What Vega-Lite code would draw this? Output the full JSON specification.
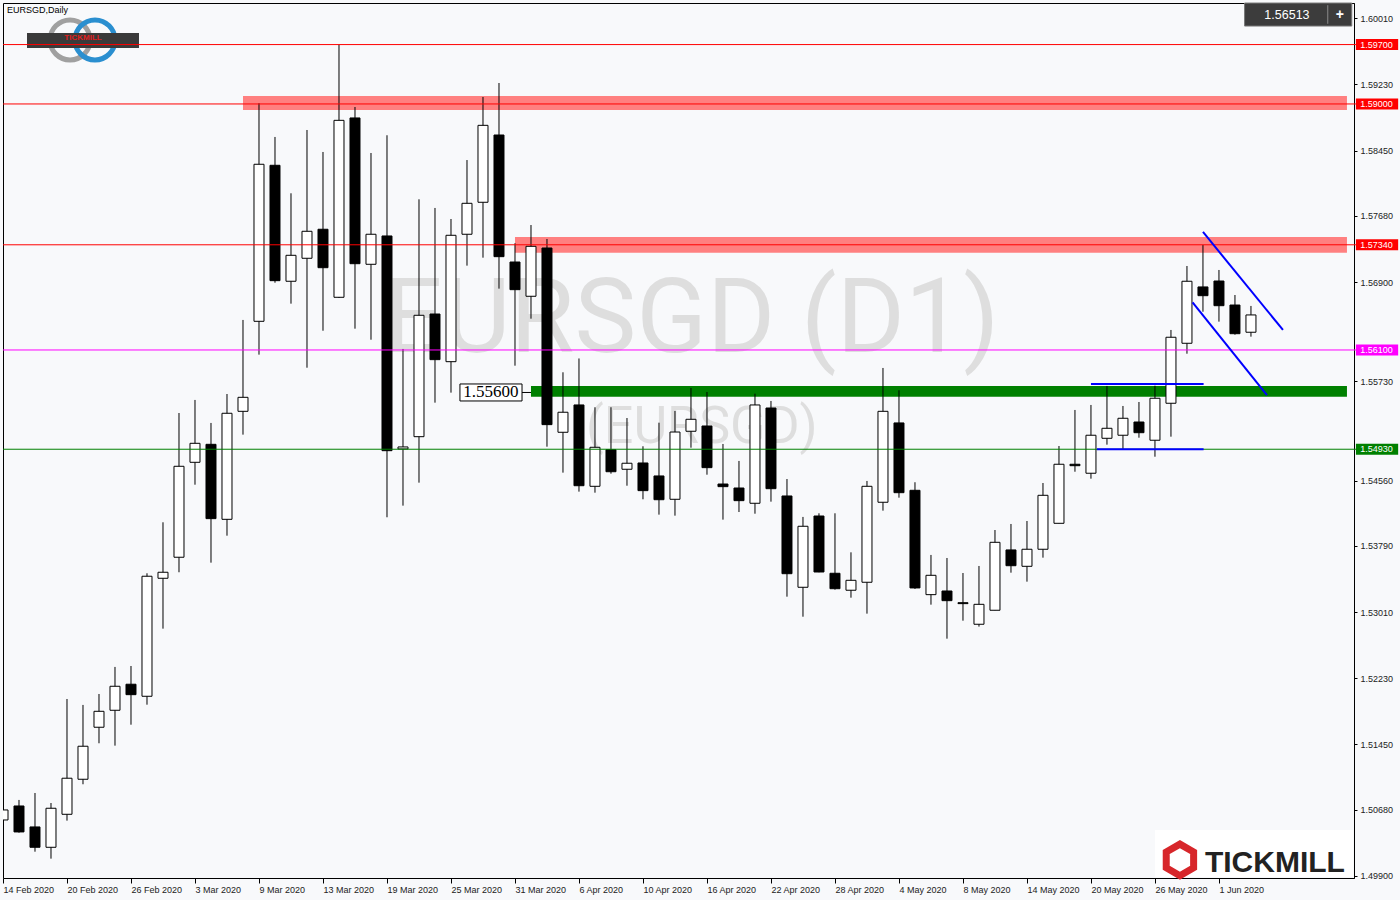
{
  "$schema": "https://vega.github.io/schema/vega-lite/v6.json",
  "width": 1351,
  "height": 875,
  "autosize": {"type": "none"},
  "padding": {"left": 3, "top": 3, "right": 46, "bottom": 22},
  "background": "#f8f9fb",
  "config": {"view": {"stroke": "#000000", "strokeWidth": 1}},
  "datasets": {
    "one": [{}],
    "candles": [
      {"i":0,"o":1.50560,"h":1.51126,"l":1.50466,"c":1.50678},
      {"i":1,"o":1.50725,"h":1.50796,"l":1.50410,"c":1.50419},
      {"i":2,"o":1.50478,"h":1.50878,"l":1.50186,"c":1.50238},
      {"i":3,"o":1.50238,"h":1.50760,"l":1.50104,"c":1.50698},
      {"i":4,"o":1.50627,"h":1.51986,"l":1.50552,"c":1.51052},
      {"i":5,"o":1.51040,"h":1.51916,"l":1.50981,"c":1.51429},
      {"i":6,"o":1.51653,"h":1.52045,"l":1.51464,"c":1.51841},
      {"i":7,"o":1.51853,"h":1.52364,"l":1.51436,"c":1.52136},
      {"i":8,"o":1.52160,"h":1.52375,"l":1.51683,"c":1.52037},
      {"i":9,"o":1.52018,"h":1.53468,"l":1.51919,"c":1.53433},
      {"i":10,"o":1.53409,"h":1.54069,"l":1.52815,"c":1.53480},
      {"i":11,"o":1.53657,"h":1.55357,"l":1.53480,"c":1.54729},
      {"i":12,"o":1.54776,"h":1.55511,"l":1.54512,"c":1.55000},
      {"i":13,"o":1.54988,"h":1.55240,"l":1.53593,"c":1.54112},
      {"i":14,"o":1.54104,"h":1.55581,"l":1.53911,"c":1.55354},
      {"i":15,"o":1.55377,"h":1.56454,"l":1.55102,"c":1.55542},
      {"i":16,"o":1.56438,"h":1.59008,"l":1.56045,"c":1.58289},
      {"i":17,"o":1.58277,"h":1.58611,"l":1.56893,"c":1.56917},
      {"i":18,"o":1.56910,"h":1.57947,"l":1.56646,"c":1.57216},
      {"i":19,"o":1.57181,"h":1.58693,"l":1.55891,"c":1.57499},
      {"i":20,"o":1.57523,"h":1.58434,"l":1.56327,"c":1.57070},
      {"i":21,"o":1.56721,"h":1.59699,"l":1.56713,"c":1.58807},
      {"i":22,"o":1.58835,"h":1.58964,"l":1.56351,"c":1.57117},
      {"i":23,"o":1.57110,"h":1.58422,"l":1.56221,"c":1.57464},
      {"i":24,"o":1.57444,"h":1.58631,"l":1.54128,"c":1.54913},
      {"i":25,"o":1.54933,"h":1.56112,"l":1.54265,"c":1.54957},
      {"i":26,"o":1.55078,"h":1.57876,"l":1.54536,"c":1.56509},
      {"i":27,"o":1.56524,"h":1.57774,"l":1.55479,"c":1.55986},
      {"i":28,"o":1.55962,"h":1.57644,"l":1.55597,"c":1.57452},
      {"i":29,"o":1.57464,"h":1.58339,"l":1.57094,"c":1.57829},
      {"i":30,"o":1.57841,"h":1.59082,"l":1.57188,"c":1.58748},
      {"i":31,"o":1.58634,"h":1.59247,"l":1.56823,"c":1.57200},
      {"i":32,"o":1.57137,"h":1.57358,"l":1.55915,"c":1.56811},
      {"i":33,"o":1.56733,"h":1.57573,"l":1.56469,"c":1.57322},
      {"i":34,"o":1.57302,"h":1.57408,"l":1.54960,"c":1.55220},
      {"i":35,"o":1.55130,"h":1.55837,"l":1.54654,"c":1.55366},
      {"i":36,"o":1.55452,"h":1.56000,"l":1.54430,"c":1.54500},
      {"i":37,"o":1.54493,"h":1.55425,"l":1.54418,"c":1.54953},
      {"i":38,"o":1.54925,"h":1.55425,"l":1.54642,"c":1.54665},
      {"i":39,"o":1.54694,"h":1.55298,"l":1.54500,"c":1.54765},
      {"i":40,"o":1.54768,"h":1.54965,"l":1.54340,"c":1.54442},
      {"i":41,"o":1.54615,"h":1.55243,"l":1.54159,"c":1.54335},
      {"i":42,"o":1.54340,"h":1.55381,"l":1.54147,"c":1.55133},
      {"i":43,"o":1.55142,"h":1.55652,"l":1.54948,"c":1.55283},
      {"i":44,"o":1.55204,"h":1.55605,"l":1.54630,"c":1.54713},
      {"i":45,"o":1.54520,"h":1.54992,"l":1.54100,"c":1.54489},
      {"i":46,"o":1.54473,"h":1.54792,"l":1.54190,"c":1.54324},
      {"i":47,"o":1.54293,"h":1.55585,"l":1.54170,"c":1.55452},
      {"i":48,"o":1.55416,"h":1.55499,"l":1.54312,"c":1.54465},
      {"i":49,"o":1.54379,"h":1.54579,"l":1.53192,"c":1.53463},
      {"i":50,"o":1.53303,"h":1.54132,"l":1.52956,"c":1.54022},
      {"i":51,"o":1.54143,"h":1.54175,"l":1.53480,"c":1.53483},
      {"i":52,"o":1.53468,"h":1.54175,"l":1.53275,"c":1.53286},
      {"i":53,"o":1.53268,"h":1.53715,"l":1.53180,"c":1.53385},
      {"i":54,"o":1.53362,"h":1.54556,"l":1.52992,"c":1.54493},
      {"i":55,"o":1.54305,"h":1.55888,"l":1.54206,"c":1.55377},
      {"i":56,"o":1.55240,"h":1.55625,"l":1.54359,"c":1.54418},
      {"i":57,"o":1.54446,"h":1.54541,"l":1.53283,"c":1.53295},
      {"i":58,"o":1.53216,"h":1.53684,"l":1.53098,"c":1.53444},
      {"i":59,"o":1.53259,"h":1.53648,"l":1.52697,"c":1.53145},
      {"i":60,"o":1.53121,"h":1.53471,"l":1.52909,"c":1.53110},
      {"i":61,"o":1.52867,"h":1.53554,"l":1.52839,"c":1.53102},
      {"i":62,"o":1.53032,"h":1.53978,"l":1.53032,"c":1.53833},
      {"i":63,"o":1.53743,"h":1.54049,"l":1.53475,"c":1.53557},
      {"i":64,"o":1.53550,"h":1.54084,"l":1.53369,"c":1.53751},
      {"i":65,"o":1.53751,"h":1.54532,"l":1.53652,"c":1.54387},
      {"i":66,"o":1.54057,"h":1.54968,"l":1.54057,"c":1.54753},
      {"i":67,"o":1.54753,"h":1.55393,"l":1.54665,"c":1.54736},
      {"i":68,"o":1.54647,"h":1.55452,"l":1.54583,"c":1.55095},
      {"i":69,"o":1.55059,"h":1.55676,"l":1.54984,"c":1.55177},
      {"i":70,"o":1.55095,"h":1.55440,"l":1.54930,"c":1.55295},
      {"i":71,"o":1.55251,"h":1.55487,"l":1.55066,"c":1.55125},
      {"i":72,"o":1.55036,"h":1.55679,"l":1.54842,"c":1.55531},
      {"i":73,"o":1.55472,"h":1.56336,"l":1.55078,"c":1.56250},
      {"i":74,"o":1.56179,"h":1.57090,"l":1.56056,"c":1.56910},
      {"i":75,"o":1.56843,"h":1.57338,"l":1.56551,"c":1.56740},
      {"i":76,"o":1.56913,"h":1.57043,"l":1.56434,"c":1.56622},
      {"i":77,"o":1.56630,"h":1.56748,"l":1.56280,"c":1.56292},
      {"i":78,"o":1.56309,"h":1.56619,"l":1.56257,"c":1.56513}
    ],
    "zones": [
      {"z":"zr","i1":15.0,"i2":84.0,"p1":1.59094,"p2":1.58929},
      {"z":"zr","i1":32.0,"i2":84.0,"p1":1.57432,"p2":1.57247},
      {"z":"zg","i1":33.0,"i2":84.0,"p1":1.55676,"p2":1.55549}
    ],
    "levels": [
      {"lab":"1.59700","p":1.597},
      {"lab":"1.59000","p":1.59},
      {"lab":"1.57340","p":1.5734},
      {"lab":"1.56100","p":1.561},
      {"lab":"1.54930","p":1.5493}
    ],
    "blue": [
      {"seg":"a","i":68.0,"p":1.557},
      {"seg":"a","i":75.04,"p":1.557},
      {"seg":"b","i":68.375,"p":1.5493},
      {"seg":"b","i":75.04,"p":1.5493},
      {"seg":"c","i":75.0,"p":1.57491},
      {"seg":"c","i":80.0,"p":1.56336},
      {"seg":"d","i":74.35,"p":1.56662},
      {"seg":"d","i":79.0,"p":1.55569}
    ]
  },
  "layer": [
    {
      "data": {"name": "one"},
      "mark": {"type": "text", "font": "Roboto", "fontSize": 104, "color": "#dedede", "align": "left", "baseline": "alphabetic"},
      "encoding": {
        "x": {"datum": 23.8, "type": "quantitative",
          "scale": {"domain": [0, 84.44], "nice": false, "zero": false, "padding": 0},
          "axis": {"orient": "bottom", "values": [0,4,8,12,16,20,24,28,32,36,40,44,48,52,56,60,64,68,72,76],
            "labelExpr": "['14 Feb 2020','20 Feb 2020','26 Feb 2020','3 Mar 2020','9 Mar 2020','13 Mar 2020','19 Mar 2020','25 Mar 2020','31 Mar 2020','6 Apr 2020','10 Apr 2020','16 Apr 2020','22 Apr 2020','28 Apr 2020','4 May 2020','8 May 2020','14 May 2020','20 May 2020','26 May 2020','1 Jun 2020'][round(datum.value/4)]",
            "title": null, "grid": false, "domain": false, "ticks": true, "tickSize": 5, "tickColor": "#000000",
            "labelAlign": "left", "labelPadding": 2, "labelFont": "Liberation Sans", "labelFontSize": 9, "labelColor": "#222222",
            "labelOverlap": false, "labelFlush": false, "labelBound": false}},
        "y": {"datum": 1.56076, "type": "quantitative",
          "scale": {"domain": [1.49876, 1.6019], "nice": false, "zero": false, "padding": 0},
          "axis": {"orient": "right", "values": [1.499,1.5029,1.5068,1.5107,1.5145,1.5184,1.5223,1.5262,1.5301,1.534,1.5379,1.5418,1.5456,1.5534,1.5573,1.5651,1.569,1.5729,1.5768,1.5806,1.5845,1.5884,1.5923,1.5962,1.6001],
            "format": ".5f", "title": null, "grid": false, "domain": true, "domainColor": "#000000", "ticks": true, "tickSize": 3, "tickColor": "#000000",
            "labelPadding": 3, "labelFont": "Liberation Sans", "labelFontSize": 9, "labelColor": "#222222", "labelOverlap": false, "labelBound": false, "labelFlush": false}},
        "text": {"value": "EURSGD (D1)"}
      }
    },
    {
      "data": {"name": "one"},
      "mark": {"type": "text", "font": "Roboto", "fontSize": 52, "color": "#dedede", "align": "left", "baseline": "alphabetic"},
      "encoding": {
        "x": {"datum": 36.44, "type": "quantitative"},
        "y": {"datum": 1.55002, "type": "quantitative"},
        "text": {"value": "(EURSGD)"}
      }
    },
    {
      "data": {"name": "zones"},
      "mark": {"type": "rect"},
      "encoding": {
        "x": {"field": "i1", "type": "quantitative"},
        "x2": {"field": "i2"},
        "y": {"field": "p1", "type": "quantitative"},
        "y2": {"field": "p2"},
        "color": {"field": "z", "type": "nominal", "scale": {"domain": ["zr","zg","1.59700","1.59000","1.57340","1.56100","1.54930"], "range": ["#ff8080","#008000","#ff0000","#ff0000","#ff0000","#ff00ff","#008000"]}, "legend": null}
      }
    },
    {
      "data": {"name": "candles"},
      "mark": {"type": "rule", "color": "#000000", "strokeWidth": 1, "clip": true},
      "encoding": {
        "x": {"field": "i", "type": "quantitative"},
        "y": {"field": "l", "type": "quantitative"},
        "y2": {"field": "h"}
      }
    },
    {
      "data": {"name": "candles"},
      "mark": {"type": "bar", "size": 10, "stroke": "#000000", "strokeWidth": 1, "clip": true},
      "encoding": {
        "x": {"field": "i", "type": "quantitative"},
        "y": {"field": "o", "type": "quantitative"},
        "y2": {"field": "c"},
        "fill": {"condition": {"test": "datum.c >= datum.o", "value": "#ffffff"}, "value": "#000000"}
      }
    },
    {
      "data": {"name": "one"},
      "mark": {"type": "point", "shape": "circle", "filled": false, "size": 1600, "stroke": "#a0a0a0", "strokeWidth": 5, "opacity": 1},
      "encoding": {"x": {"datum": 4.19, "type": "quantitative"}, "y": {"datum": 1.59754, "type": "quantitative"}}
    },
    {
      "data": {"name": "one"},
      "mark": {"type": "point", "shape": "circle", "filled": false, "size": 1600, "stroke": "#2a8fd0", "strokeWidth": 5, "opacity": 1},
      "encoding": {"x": {"datum": 5.75, "type": "quantitative"}, "y": {"datum": 1.59754, "type": "quantitative"}}
    },
    {
      "data": {"name": "one"},
      "mark": {"type": "bar", "orient": "horizontal", "size": 15, "fill": "#3a3a3a"},
      "encoding": {"x": {"datum": 1.5, "type": "quantitative"}, "x2": {"datum": 8.5}, "y": {"datum": 1.59748, "type": "quantitative"}}
    },
    {
      "data": {"name": "one"},
      "mark": {"type": "text", "font": "Liberation Sans", "fontSize": 8, "fontWeight": "bold", "color": "#e02020", "align": "center", "baseline": "middle"},
      "encoding": {"x": {"datum": 5.0, "type": "quantitative"}, "y": {"datum": 1.59775, "type": "quantitative"}, "text": {"value": "TICKMILL"}}
    },
    {
      "data": {"name": "levels"},
      "mark": {"type": "rule", "strokeWidth": 1, "clip": false},
      "encoding": {
        "x": {"datum": 0, "type": "quantitative"},
        "x2": {"datum": 84.56},
        "y": {"field": "p", "type": "quantitative"},
        "color": {"field": "lab", "type": "nominal", "scale": {"domain": ["zr","zg","1.59700","1.59000","1.57340","1.56100","1.54930"], "range": ["#ff8080","#008000","#ff0000","#ff0000","#ff0000","#ff00ff","#008000"]}, "legend": null}
      }
    },
    {
      "data": {"name": "levels"},
      "mark": {"type": "bar", "orient": "horizontal", "size": 11, "clip": false},
      "encoding": {
        "x": {"datum": 84.56, "type": "quantitative"},
        "x2": {"datum": 87.2},
        "y": {"field": "p", "type": "quantitative"},
        "color": {"field": "lab", "type": "nominal", "scale": {"domain": ["zr","zg","1.59700","1.59000","1.57340","1.56100","1.54930"], "range": ["#ff8080","#008000","#ff0000","#ff0000","#ff0000","#ff00ff","#008000"]}, "legend": null}
      }
    },
    {
      "data": {"name": "levels"},
      "mark": {"type": "text", "font": "Liberation Sans", "fontSize": 9, "color": "#ffffff", "align": "center", "baseline": "middle", "clip": false},
      "encoding": {
        "x": {"datum": 85.85, "type": "quantitative"},
        "y": {"field": "p", "type": "quantitative"},
        "text": {"field": "lab"}
      }
    },
    {
      "data": {"name": "blue"},
      "mark": {"type": "line", "color": "#0000ff", "strokeWidth": 2},
      "encoding": {
        "x": {"field": "i", "type": "quantitative"},
        "y": {"field": "p", "type": "quantitative"},
        "detail": {"field": "seg", "type": "nominal"}
      }
    },
    {
      "data": {"name": "one"},
      "mark": {"type": "rule", "color": "#000000", "strokeWidth": 1},
      "encoding": {"x": {"datum": 32.44, "type": "quantitative"}, "x2": {"datum": 33.0}, "y": {"datum": 1.55599, "type": "quantitative"}}
    },
    {
      "data": {"name": "one"},
      "mark": {"type": "bar", "orient": "horizontal", "size": 17, "fill": "#ffffff", "stroke": "#000000", "strokeWidth": 1},
      "encoding": {"x": {"datum": 28.56, "type": "quantitative"}, "x2": {"datum": 32.44}, "y": {"datum": 1.55599, "type": "quantitative"}}
    },
    {
      "data": {"name": "one"},
      "mark": {"type": "text", "font": "Liberation Serif", "fontSize": 17, "color": "#000000", "align": "center", "baseline": "middle"},
      "encoding": {"x": {"datum": 30.5, "type": "quantitative"}, "y": {"datum": 1.55599, "type": "quantitative"}, "text": {"value": "1.55600"}}
    },
    {
      "data": {"name": "one"},
      "mark": {"type": "text", "font": "Liberation Sans", "fontSize": 9, "color": "#000000", "align": "left", "baseline": "middle"},
      "encoding": {"x": {"datum": 0.25, "type": "quantitative"}, "y": {"datum": 1.60107, "type": "quantitative"}, "text": {"value": "EURSGD,Daily"}}
    },
    {
      "data": {"name": "one"},
      "mark": {"type": "bar", "orient": "horizontal", "size": 23, "fill": "#3c3c3c", "stroke": "#777777", "strokeWidth": 1},
      "encoding": {"x": {"datum": 77.6, "type": "quantitative"}, "x2": {"datum": 84.3}, "y": {"datum": 1.60054, "type": "quantitative"}}
    },
    {
      "data": {"name": "one"},
      "mark": {"type": "rule", "color": "#8a8a8a", "strokeWidth": 1},
      "encoding": {"x": {"datum": 82.8, "type": "quantitative"}, "y": {"datum": 1.60164, "type": "quantitative"}, "y2": {"datum": 1.59945}}
    },
    {
      "data": {"name": "one"},
      "mark": {"type": "text", "font": "Liberation Sans", "fontSize": 12.5, "color": "#ffffff", "align": "center", "baseline": "middle"},
      "encoding": {"x": {"datum": 80.25, "type": "quantitative"}, "y": {"datum": 1.60054, "type": "quantitative"}, "text": {"value": "1.56513"}}
    },
    {
      "data": {"name": "one"},
      "mark": {"type": "text", "font": "Liberation Sans", "fontSize": 14, "fontWeight": "bold", "color": "#ffffff", "align": "center", "baseline": "middle"},
      "encoding": {"x": {"datum": 83.56, "type": "quantitative"}, "y": {"datum": 1.60054, "type": "quantitative"}, "text": {"value": "+"}}
    },
    {
      "data": {"name": "one"},
      "mark": {"type": "bar", "orient": "horizontal", "size": 47, "fill": "#ffffff"},
      "encoding": {"x": {"datum": 72.0, "type": "quantitative"}, "x2": {"datum": 84.4}, "y": {"datum": 1.50165, "type": "quantitative"}}
    },
    {
      "data": {"name": "one"},
      "mark": {"type": "point", "shape": "M0,-1L0.866,-0.5L0.866,0.5L0,1L-0.866,0.5L-0.866,-0.5Z", "filled": false, "size": 1000, "stroke": "#d7262a", "strokeWidth": 7, "opacity": 1},
      "encoding": {"x": {"datum": 73.56, "type": "quantitative"}, "y": {"datum": 1.50089, "type": "quantitative"}}
    },
    {
      "data": {"name": "one"},
      "mark": {"type": "text", "font": "Liberation Sans", "fontSize": 30, "fontWeight": "bold", "color": "#222222", "align": "left", "baseline": "alphabetic"},
      "encoding": {"x": {"datum": 75.125, "type": "quantitative"}, "y": {"datum": 1.49947, "type": "quantitative"}, "text": {"value": "TICKMILL"}}
    }
  ]
}
